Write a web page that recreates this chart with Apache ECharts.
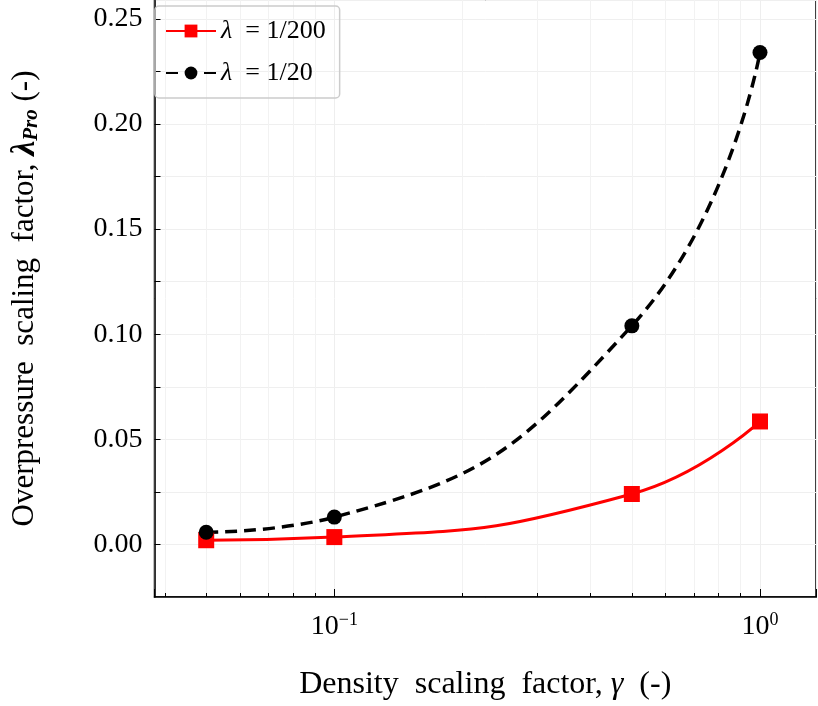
<!DOCTYPE html><html><head><script src="https://cdn.jsdelivr.net/npm/echarts@6/dist/echarts.min.js"></script></head><body style="margin:0"><div id="c" style="width:818px;height:706px"></div><script>
const gammas=[0.05,0.1,0.5,1];
const red=[0.002,0.0035,0.024,0.0585];
const black=[0.0058,0.013,0.104,0.234];
const yTicks=['0.00','0.05','0.10','0.15','0.20','0.25'];
const F='Liberation Serif';
const ch=echarts.init(document.getElementById('c'));
const sup={'0.1':'−1','1':'0'};
ch.setOption({
grid:{left:145,right:2,top:0,bottom:100,show:true,borderColor:'#000',borderWidth:1.5,backgroundColor:'#fff'},
legend:{left:155,top:6,orient:'vertical',itemWidth:50,itemHeight:16,itemGap:16,padding:[12,14,12,10],borderColor:'#ccc',borderWidth:1.5,borderRadius:4,
 textStyle:{fontFamily:F,fontSize:26,color:'#000',rich:{i:{fontFamily:F,fontStyle:'italic',fontSize:26}}},
 formatter:n=>'{i|λ}  = '+n.split('=')[1],data:['λ=1/200','λ=1/20']},
xAxis:{type:'log',logBase:10,min:0.0378,max:1.354,
 name:'Density  scaling  factor, {i|γ}  (-)',nameLocation:'middle',nameGap:72,
 nameTextStyle:{fontFamily:F,fontSize:32,color:'#000',rich:{i:{fontFamily:F,fontStyle:'italic',fontSize:32}}},
 axisLine:{onZero:false,lineStyle:{color:'#000',width:1.5}},axisTick:{inside:true,length:8,lineStyle:{color:'#000'}},
 minorTick:{show:true,splitNumber:9,length:4,lineStyle:{color:'#000'}},
 splitLine:{show:true,lineStyle:{color:'#eee'}},minorSplitLine:{show:true,lineStyle:{color:'#f2f2f2'}},
 axisLabel:{showMinLabel:false,showMaxLabel:false,margin:14,formatter:v=>sup[String(v)]!==undefined?'10{s|'+sup[String(v)]+'}':'',
 fontFamily:F,fontSize:28,color:'#000',rich:{s:{fontFamily:F,fontSize:18,verticalAlign:'top',padding:[0,0,14,0]}}}},
yAxis:{type:'value',min:-0.025,max:0.259,interval:0.025,
 name:'Overpressure  scaling  factor, {b|λ}{s|Pro} (-)',nameLocation:'middle',nameGap:112,
 nameTextStyle:{fontFamily:F,fontSize:31,color:'#000',rich:{b:{fontFamily:F,fontStyle:'italic',fontWeight:'bold',fontSize:34},s:{fontFamily:F,fontStyle:'italic',fontWeight:'bold',fontSize:21,padding:[14,0,0,0]}}},
 axisLine:{lineStyle:{color:'#000',width:1.5}},axisTick:{inside:true,length:6,lineStyle:{color:'#000'}},
 splitLine:{show:true,lineStyle:{color:'#efefef'}},
 axisLabel:{margin:12,fontFamily:F,fontSize:28,color:'#000',showMinLabel:false,showMaxLabel:false,
 formatter:v=>{const i=Math.round(v/0.05);return Math.abs(v-i*0.05)<1e-9&&i>=0&&i<yTicks.length?yTicks[i]:'';}}},
series:[
{name:'λ=1/200',type:'line',smooth:0.5,data:gammas.map((g,i)=>[g,red[i]]),symbol:'rect',symbolSize:16,
 lineStyle:{color:'#f00',width:3},itemStyle:{color:'#f00'}},
{name:'λ=1/20',type:'line',smooth:0.5,data:gammas.map((g,i)=>[g,black[i]]),symbol:'circle',symbolSize:15,
 lineStyle:{color:'#000',width:3.5,type:[12,7]},itemStyle:{color:'#000'}}
]});
</script></body></html>
